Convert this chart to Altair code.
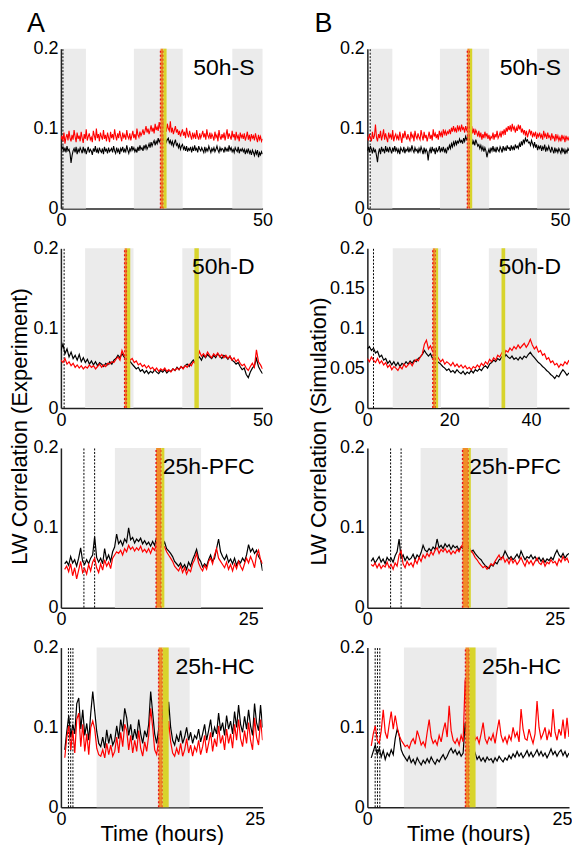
import altair as alt
import pandas as pd

FONT = "Liberation Sans"

# ---------------- data (LW correlation values, in units of 1e-3) ----------------
A1_black = [80,74,77,71,76,70,78,72,74,69,
            57,66,72,75,70,77,68,74,71,76,
            73,69,77,71,75,68,73,77,70,74,
            72,67,75,71,78,70,74,69,76,72,
            70,75,68,77,72,74,69,76,71,73,
            75,70,78,72,69,76,71,74,68,75,
            72,77,70,74,71,79,73,69,75,72,
            78,73,76,71,74,70,77,72,79,74,
            76,72,79,75,80,74,77,81,76,83,
            78,82,85,79,84,81,88,83,86,84,
            95,87,84,89,83,86,88,82,85,80,
            84,78,82,86,79,81,76,80,74,78,
            80,74,77,72,78,71,75,73,77,70,
            76,72,79,73,75,70,78,74,72,76,
            73,70,77,71,75,72,78,74,70,75,
            72,76,71,74,78,73,70,76,72,75,
            74,70,77,72,75,71,79,73,76,71,
            74,70,76,73,71,77,69,74,72,75,
            71,74,68,73,70,75,69,72,67,73,
            70,66,72,68,73,64,70,67,71,68]
A1_red = [86,91,84,95,81,89,93,85,97,88,
          84,92,86,98,90,83,95,87,91,84,
          96,88,82,93,87,99,85,90,94,86,
          89,83,97,91,85,100,88,93,84,95,
          90,86,98,87,92,84,95,89,83,96,
          88,93,86,99,91,85,94,88,97,90,
          84,95,89,92,86,98,90,87,94,85,
          91,97,88,93,86,100,92,89,96,91,
          94,99,92,97,103,95,100,93,98,104,
          96,101,94,106,98,102,97,108,100,99,
          103,110,98,104,96,106,100,97,109,95,
          101,93,98,103,95,99,92,97,90,95,
          99,91,96,88,101,93,89,97,91,86,
          95,89,93,87,98,90,86,94,88,92,
          97,89,94,86,99,91,88,95,87,93,
          90,85,96,89,92,84,98,90,86,93,
          88,95,85,92,99,87,94,90,86,97,
          89,93,85,96,88,91,84,95,89,92,
          87,94,85,90,96,86,92,84,93,88,
          91,85,94,88,83,92,86,90,84,87]
B1_black = [72,77,70,78,74,69,76,71,73,66,
            58,70,75,68,77,72,74,69,78,71,
            75,70,77,73,69,76,71,78,72,75,
            70,74,68,76,73,71,77,69,74,72,
            76,70,75,72,79,73,70,76,72,74,
            69,75,71,77,73,68,76,70,74,71,
            60,71,75,69,77,72,74,68,76,71,
            73,78,70,75,72,77,71,74,69,76,
            74,79,75,81,77,83,79,85,80,84,
            82,87,83,85,81,88,84,90,86,88,
            95,86,83,87,80,84,79,86,82,78,
            80,75,79,73,77,71,76,72,64,70,
            74,69,76,72,78,71,75,70,77,73,
            71,77,74,70,78,73,76,72,79,75,
            76,72,79,74,77,73,80,76,78,75,
            81,77,84,79,86,82,88,84,86,82,
            83,79,85,81,77,83,76,80,73,78,
            75,79,72,77,74,80,71,76,73,78,
            74,70,77,73,69,76,71,74,70,75,
            72,69,76,71,74,68,73,70,75,72]
B1_red = [90,85,93,88,84,96,87,91,105,89,
          84,93,88,97,85,91,99,86,94,88,
          83,95,89,92,86,98,84,90,93,87,
          91,85,96,89,82,94,88,97,90,86,
          93,88,85,96,89,92,84,97,90,87,
          94,89,86,98,91,85,96,88,92,84,
          90,96,87,92,85,99,90,94,88,93,
          86,97,91,95,89,99,93,97,91,96,
          94,99,93,101,96,103,97,100,95,104,
          98,102,96,105,99,101,95,103,98,100,
          112,99,96,103,94,100,92,98,95,90,
          97,89,95,86,93,88,96,90,94,87,
          92,85,90,88,95,86,93,89,97,88,
          91,95,89,97,93,99,92,101,96,103,
          98,104,96,106,99,102,95,101,97,105,
          99,104,95,100,94,98,91,97,89,94,
          99,93,97,89,94,91,96,87,93,90,
          95,89,92,86,97,90,93,87,95,89,
          91,85,94,88,90,84,93,87,91,85,
          89,84,92,87,90,83,91,86,89,85]
A2_black = [72,80,68,74,64,70,62,66,60,67,
            58,63,57,61,55,59,54,58,53,57,
            55,52,56,54,58,55,60,62,66,63,
            68,64,61,65,58,55,52,49,51,46,
            48,44,47,43,46,44,48,45,43,47,
            45,48,44,47,46,49,47,51,48,52,
            50,53,55,52,57,60,56,62,64,60,
            66,63,67,64,62,66,63,68,65,62,
            66,64,61,65,60,58,55,57,52,48,
            50,42,38,45,50,53,62,52,47,43]
A2_red = [60,57,62,55,58,53,56,51,54,50,
          53,49,52,50,54,51,53,49,52,55,
          51,54,52,56,55,58,57,61,64,60,
          72,66,63,67,60,62,57,59,54,56,
          52,54,50,53,49,51,47,50,46,49,
          47,50,46,48,45,49,47,50,48,52,
          49,53,51,55,53,58,56,62,71,65,
          68,64,70,66,63,68,65,69,64,67,
          63,66,62,65,60,63,58,61,56,53,
          55,50,47,52,56,51,73,58,54,49]
B2_black = [74,77,72,75,69,71,64,66,60,62,
            56,59,54,58,53,57,52,56,54,58,
            55,59,56,60,58,62,64,67,72,68,
            65,68,62,64,59,57,55,52,50,47,
            49,45,47,44,48,45,43,46,42,45,
            43,47,44,48,46,49,47,51,53,50,
            55,57,60,58,62,60,64,62,67,64,
            62,65,61,63,60,64,61,65,63,67,
            70,66,63,60,57,55,52,50,47,45,
            42,40,37,41,39,44,48,45,41,44]
B2_red = [62,58,64,60,57,62,56,59,54,57,
          51,54,48,52,50,47,52,49,55,51,
          54,57,53,58,61,59,64,68,80,85,
          74,78,71,73,66,62,58,61,55,58,
          56,53,57,52,55,51,54,50,53,49,
          51,48,52,50,54,51,56,53,58,55,
          61,58,63,60,66,64,69,65,72,70,
          75,72,77,74,79,75,78,81,76,80,
          86,79,74,77,70,72,66,68,61,63,
          57,59,54,56,51,55,53,58,55,60]
A3_black = [55,58,53,64,56,60,52,62,75,58,
            54,60,55,62,66,89,63,57,62,55,
            74,60,66,58,70,76,92,80,84,78,
            86,82,100,85,88,81,86,83,87,80,
            84,79,82,77,83,78,88,75,80,77,
            82,74,71,68,64,58,55,52,56,50,
            54,48,57,52,60,66,73,62,58,51,
            55,52,60,66,58,62,74,86,70,64,
            60,66,57,61,55,62,53,59,56,62,
            58,66,79,70,74,68,72,64,60,46]
A3_red = [48,52,45,55,40,50,36,47,58,44,
          49,42,54,46,57,62,50,44,55,47,
          60,52,57,49,62,66,70,68,72,66,
          74,70,78,73,76,71,75,72,77,70,
          73,69,74,68,75,72,80,103,84,78,
          76,70,66,62,58,52,49,46,52,44,
          50,42,48,45,55,60,68,56,50,46,
          53,48,58,62,55,66,74,62,58,54,
          50,57,48,54,46,55,49,58,52,47,
          55,62,56,64,58,50,66,72,60,55]
B3_black = [58,62,56,60,64,57,61,55,63,59,
            62,57,65,70,86,62,66,59,64,60,
            62,67,60,66,63,69,78,72,70,74,
            71,76,73,86,75,78,74,80,76,79,
            73,78,75,77,72,76,74,78,73,75,
            70,72,68,65,62,60,56,53,51,49,
            54,52,57,55,60,62,64,71,66,61,
            64,60,63,67,62,71,65,60,64,62,
            66,61,64,59,63,58,62,57,61,59,
            63,60,67,72,66,63,68,62,66,68]
B3_red = [54,52,56,50,55,49,53,51,57,50,
          54,48,56,52,66,71,55,50,58,53,
          56,51,60,55,63,58,66,62,68,64,
          70,66,72,75,68,73,70,74,69,72,
          67,71,68,73,70,76,80,94,82,76,
          71,68,63,60,56,53,50,52,48,51,
          55,53,58,62,66,60,64,57,61,55,
          62,56,60,54,58,63,57,52,60,55,
          59,53,58,62,56,54,59,52,57,55,
          60,56,58,53,61,57,64,59,62,56]
A4_black = [72,95,115,88,104,92,130,137,98,122,
            90,105,84,118,145,120,95,80,76,88,
            74,97,80,92,78,84,102,86,110,95,
            124,112,90,104,84,98,86,110,92,80,
            96,88,104,145,118,92,80,98,145,112,
            86,96,132,100,84,78,90,82,96,80,
            88,100,84,94,80,90,86,98,82,92,
            104,84,96,110,88,100,92,118,96,106,
            90,115,98,108,92,120,100,128,104,94,
            114,98,122,102,90,130,106,96,128,100]
A4_red = [62,88,102,72,96,68,110,118,76,104,
          70,92,66,100,108,98,74,66,64,72,
          62,80,66,78,64,70,88,68,94,76,
          104,96,72,90,68,84,70,96,74,64,
          82,70,90,124,100,72,66,84,120,92,
          70,80,108,82,68,64,74,66,80,64,
          72,86,68,78,64,76,70,84,66,76,
          90,68,80,94,70,86,76,102,80,90,
          72,98,80,92,74,104,84,110,86,76,
          96,80,106,84,72,112,88,78,110,84]
B4_black = [62,70,78,66,74,63,71,60,68,64,
            72,66,86,98,90,72,66,62,58,64,
            56,60,54,62,57,53,59,55,61,56,
            63,58,54,60,57,62,66,60,64,70,
            74,68,72,66,70,64,68,106,82,72,
            66,62,68,60,64,58,62,57,63,59,
            61,56,62,58,64,60,57,62,59,65,
            61,67,63,70,64,68,62,66,71,64,
            69,63,67,72,65,70,64,68,62,67,
            73,66,70,64,69,72,65,70,63,68]
B4_red = [77,92,102,84,80,96,122,94,86,104,
          120,98,115,100,90,84,80,76,78,74,
          82,86,79,96,88,78,82,76,94,110,
          88,80,84,78,90,82,96,106,88,127,
          96,84,80,86,78,90,82,160,118,90,
          96,106,84,88,80,92,106,86,80,88,
          84,92,80,96,110,90,82,88,80,90,
          84,100,88,94,82,123,98,86,84,98,
          88,80,92,133,100,86,92,100,84,96,
          88,123,94,84,98,90,110,86,112,88]

# panel labels, time ranges (hours), ticks and marked intervals (hours)
LABELS = ["50h-S", "50h-S", "50h-D", "50h-D", "25h-PFC", "25h-PFC", "25h-HC", "25h-HC"]
T_START = [0, 0, 0, 0, 0.5, 0.5, 0.5, 0.5]
T_END = [50, 50, 50, 49.3, 26.9, 26.9, 26.0, 25.9]
X_MAX = [50, 50, 50, 49.3, 26.9, 26.9, 26.0, 25.9]
X_TICKS = [[0, 50], [0, 50], [0, 50], [0, 20, 40], [0, 25], [0, 25], [0, 25], [0, 25]]
Y_TICKS = [[0, 0.1, 0.2]] * 3 + [[0, 0.05, 0.1, 0.15, 0.2]] + [[0, 0.1, 0.2]] * 4
GREY = [[(0.6, 6.2), (18.1, 30.2), (42.5, 50)],
        [(0.8, 6.2), (18.0, 30.2), (42.1, 50)],
        [(6.0, 18.0), (30.1, 42.1)],
        [(6.2, 18.0), (29.7, 41.5)],
        [(7.2, 18.7)], [(7.1, 18.7)], [(4.6, 16.6)], [(4.7, 16.6)]]
ORANGE = [(24.7, 25.4), (24.8, 25.4), (15.8, 16.4), (16.0, 16.7),
          (12.7, 13.4), (12.7, 13.5), (12.6, 13.1), (12.6, 13.1)]
YELLOW = [[(25.4, 26.2)], [(25.4, 26.0)], [(16.4, 17.2), (33.1, 34.2)], [(16.7, 17.3), (32.8, 33.7)],
          [(13.4, 13.8)], [(13.5, 13.8)], [(13.1, 13.9)], [(13.1, 13.9)]]
DASHED = [[0.5], [0.7], [0.8], [1.5], [3.07, 4.5], [3.1, 4.5], [0.97, 1.26, 1.55], [1.0, 1.3, 1.6]]
BLACK = [A1_black, B1_black, A2_black, B2_black, A3_black, B3_black, A4_black, B4_black]
RED = [A1_red, B1_red, A2_red, B2_red, A3_red, B3_red, A4_red, B4_red]

W, H = 202, 160
ONE = pd.DataFrame({"k": [0]})


def series_df(vals, t0, t1):
    n = len(vals)
    step = (t1 - t0) / (n - 1)
    return pd.DataFrame({"t": [t0 + i * step for i in range(n)], "r": [v / 1000 for v in vals]})


def make_panel(i):
    row, col = divmod(i, 2)
    xs = alt.Scale(domain=[0, X_MAX[i]], nice=False, zero=False)
    ys = alt.Scale(domain=[0, 0.2], nice=False, zero=False)

    xaxis_kw = dict(values=X_TICKS[i], format=".2~f", labelFlush=False)
    if row == 0 and col == 1:
        xaxis_kw.update(labelOffset={"condition": {"test": "datum.value >= 50", "value": -9}, "value": 0})
    if row == 3:
        xaxis_kw.update(title="Time (hours)", titleY=33, titleBaseline="alphabetic")
    else:
        xaxis_kw.update(title=None)
    yaxis_kw = dict(values=Y_TICKS[i], format=".2~f")
    if row == 1:
        yaxis_kw.update(
            title="LW Correlation (Experiment)" if col == 0 else "LW Correlation (Simulation)",
            titleX=-34 if col == 0 else -42, titleY=178 if col == 0 else 183,
            titleAngle=270, titleAlign="center", titleBaseline="alphabetic")
    else:
        yaxis_kw.update(title=None)
    XA = alt.Axis(**xaxis_kw)
    YA = alt.Axis(**yaxis_kw)
    y_lo = alt.YDatum(0, scale=ys, axis=YA)
    y_hi = alt.datum(0.2)

    grey_df = pd.DataFrame({"a": [g[0] for g in GREY[i]], "b": [g[1] for g in GREY[i]]})
    grey = alt.Chart(grey_df).mark_rect(color="#ebebeb").encode(
        x=alt.X("a:Q", scale=xs, axis=XA), x2="b:Q", y=y_lo, y2=y_hi)

    dash_df = pd.DataFrame({"d": DASHED[i]})
    dashes = alt.Chart(dash_df).mark_rule(color="black", strokeWidth=1, strokeDash=[2, 1.5]).encode(
        x=alt.X("d:Q", scale=xs, axis=XA), y=y_lo, y2=y_hi)

    lw = 1.1 if row == 0 else 1.2
    black = alt.Chart(series_df(BLACK[i], T_START[i], T_END[i])).mark_line(
        color="black", strokeWidth=lw, clip=True).encode(
        x=alt.X("t:Q", scale=xs, axis=XA),
        y=alt.Y("r:Q", scale=ys, axis=YA))
    red = alt.Chart(series_df(RED[i], T_START[i], T_END[i])).mark_line(
        color="#ff0000", strokeWidth=lw, clip=True).encode(
        x=alt.X("t:Q", scale=xs, axis=XA), y=alt.Y("r:Q", scale=ys, axis=YA))

    o_df = pd.DataFrame({"a": [ORANGE[i][0]], "b": [ORANGE[i][1]]})
    orange = alt.Chart(o_df).mark_rect(color="#f08c28").encode(
        x=alt.X("a:Q", scale=xs, axis=XA), x2="b:Q", y=y_lo, y2=y_hi)
    o_edges = pd.DataFrame({"e": [ORANGE[i][0], ORANGE[i][1]]})
    red_rules = alt.Chart(o_edges).mark_rule(color="#e8141a", strokeWidth=1.4, strokeDash=[2, 2]).encode(
        x=alt.X("e:Q", scale=xs, axis=XA), y=y_lo, y2=y_hi)
    y_df = pd.DataFrame({"a": [g[0] for g in YELLOW[i]], "b": [g[1] for g in YELLOW[i]]})
    yellow = alt.Chart(y_df).mark_rect(color="#d8d42c").encode(
        x=alt.X("a:Q", scale=xs, axis=XA), x2="b:Q", y=y_lo, y2=y_hi)

    label = alt.Chart(ONE).mark_text(text=LABELS[i], align="right", baseline="middle",
                                     fontSize=23, font=FONT, color="black").encode(
        x=alt.value(W - 8), y=alt.value(19))

    layers = [grey, dashes, black, red, orange, red_rules, yellow, label]
    if row == 0:
        letter = alt.Chart(ONE).mark_text(text="A" if col == 0 else "B", align="left",
                                          baseline="alphabetic", fontSize=27, font=FONT,
                                          color="black").encode(
            x=alt.value(-34 if col == 0 else -53), y=alt.value(-17))
        layers.append(letter)
        if col == 0:
            anchor = alt.Chart(ONE).mark_point(filled=True, size=1, opacity=0).encode(
                x=alt.value(-52), y=alt.value(-39))
            layers.append(anchor)
    return alt.layer(*layers).properties(width=W, height=H)


panels = [make_panel(i) for i in range(8)]

chart = alt.concat(
    *panels, columns=2, spacing={"row": 40, "column": 105}, bounds="flush"
).properties(padding=0, background="white").configure_view(stroke=None).configure_axis(
    domainColor="#222", domainWidth=1.5, ticks=False, grid=False,
    labelFont=FONT, labelFontSize=18, labelColor="black", labelPadding=3,
    titleFont=FONT, titleFontSize=22, titleFontWeight="normal", titleColor="black")

chart.save("out.html", embed_options={"renderer": "svg", "actions": False})
